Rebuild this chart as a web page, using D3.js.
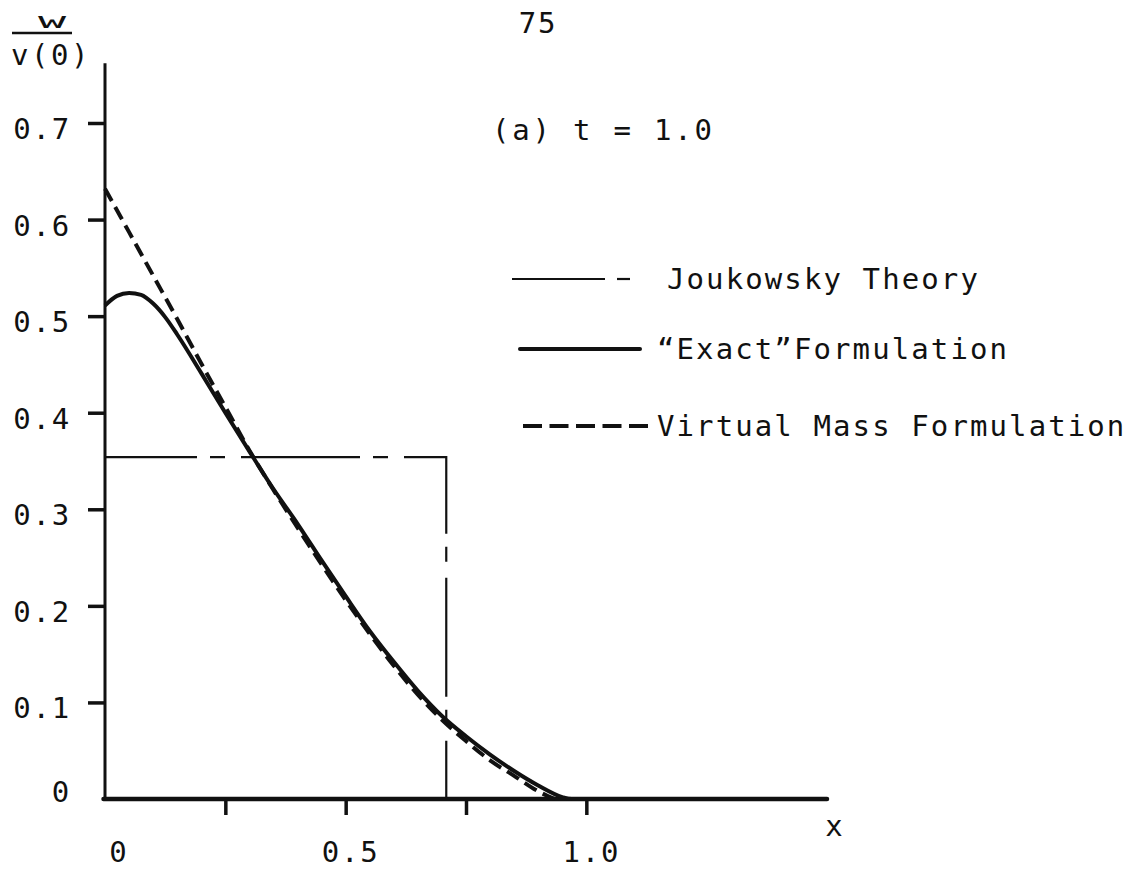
<!DOCTYPE html>
<html>
<head>
<meta charset="utf-8">
<script src="https://cdn.jsdelivr.net/npm/d3@7"></script>
<style>
  html, body { margin: 0; padding: 0; background: #fff; }
  svg { display: block; }
  text { font-family: "DejaVu Sans Mono", monospace; fill: #111; letter-spacing: 1.8px; }
</style>
</head>
<body>
<svg id="chart" width="1134" height="871"></svg>
<script>
// ---- data ----
const xGrid = [0, 0.025, 0.05, 0.075, 0.1, 0.125, 0.15, 0.2, 0.25, 0.3, 0.35, 0.4, 0.45, 0.5,
               0.55, 0.6, 0.65, 0.7, 0.75, 0.8, 0.85, 0.9, 0.95, 0.97, 1.5];
const exactW = [0.511, 0.521, 0.524, 0.522, 0.513, 0.499, 0.481, 0.441, 0.400, 0.360, 0.321, 0.285, 0.247, 0.210,
                0.174, 0.142, 0.112, 0.086, 0.065, 0.046, 0.029, 0.014, 0.002, 0, 0];

const virtualX = [0, 0.05, 0.1, 0.15, 0.2, 0.25, 0.3, 0.35, 0.4, 0.45, 0.5, 0.55, 0.6, 0.65,
                  0.7, 0.75, 0.8, 0.85, 0.9, 0.92, 0.935];
const virtualW = [0.632, 0.587, 0.542, 0.497, 0.451, 0.406, 0.361, 0.320, 0.281, 0.243, 0.206, 0.171, 0.138, 0.108,
                  0.082, 0.060, 0.040, 0.024, 0.008, 0.003, 0];

// Joukowsky theory: a rectangular pulse up to the wave front
const joukowskyX = [0, 0.709, 0.709];
const joukowskyW = [0.354, 0.354, 0];

const yTickValues = [0, 0.1, 0.2, 0.3, 0.4, 0.5, 0.6, 0.7];
const yTickLabels = ["0", "0.1", "0.2", "0.3", "0.4", "0.5", "0.6", "0.7"];
const xTickValues = [0.25, 0.5, 0.75, 1.0];
const xLabelValues = [0, 0.5, 1.0];
const xLabelTexts = ["0", "0.5", "1.0"];

const legendNames = ["Joukowsky Theory", "\u201CExact\u201DFormulation", "Virtual Mass Formulation"];

// ---- scales ----
const xMax = 1.5, yTop = 0.762;
const x = d3.scaleLinear().domain([0, xMax]).range([105, 827]);
const y = d3.scaleLinear().domain([0, 0.7]).range([799, 123]);

const svg = d3.select("#chart");
const ink = "#111";

// ---- axes ----
const yAxis = d3.axisLeft(y).tickValues(yTickValues.slice(1)).tickSize(17).tickFormat("");
const gy = svg.append("g").attr("transform", `translate(${x(0)},0)`).call(yAxis);
gy.select(".domain").remove();
gy.selectAll(".tick line").attr("stroke", ink).attr("stroke-width", 3.5);
svg.append("line")
  .attr("x1", x(0)).attr("x2", x(0))
  .attr("y1", y(0)).attr("y2", y(yTop))
  .attr("stroke", ink).attr("stroke-width", 3);

const xAxis = d3.axisBottom(x).tickValues(xTickValues).tickSize(16).tickFormat("");
const gx = svg.append("g").attr("transform", `translate(0,${y(0)})`).call(xAxis);
gx.select(".domain").remove();
gx.selectAll(".tick line").attr("stroke", ink).attr("stroke-width", 3.5);
svg.append("line")
  .attr("x1", x(0) - 1.5).attr("x2", x(xMax))
  .attr("y1", y(0)).attr("y2", y(0))
  .attr("stroke", ink).attr("stroke-width", 4.5).attr("stroke-linecap", "round");

// y tick labels
svg.append("g").selectAll("text")
  .data(yTickValues)
  .join("text")
  .attr("x", 71)
  .attr("y", d => d === 0 ? y(d) + 3 : y(d) + 16)
  .attr("text-anchor", "end")
  .attr("font-size", 29)
  .text((d, i) => yTickLabels[i]);

// x tick labels
svg.append("g").selectAll("text")
  .data(xLabelValues)
  .join("text")
  .attr("x", d => x(d) + (d === 0 ? 14 : 5))
  .attr("y", 862)
  .attr("text-anchor", "middle")
  .attr("font-size", 29)
  .text((d, i) => xLabelTexts[i]);

// axis titles
svg.append("text").attr("x", 835).attr("y", 836).attr("text-anchor", "middle")
  .attr("font-size", 29).text("x");
svg.append("text").attr("x", 52).attr("y", 28).attr("text-anchor", "middle")
  .attr("font-size", 26).attr("transform", "translate(52,28) scale(1.8,0.85) translate(-52,-28)")
  .style("letter-spacing", "0px").text("w");
svg.append("line").attr("x1", 12).attr("x2", 72).attr("y1", 33).attr("y2", 33)
  .attr("stroke", ink).attr("stroke-width", 2.5);
svg.append("text").attr("x", 11).attr("y", 65).attr("font-size", 29)
  .style("letter-spacing", "2.5px").text("v(0)");

// page number and panel label
svg.append("text").attr("x", 538).attr("y", 33).attr("text-anchor", "middle")
  .attr("font-size", 29).text("75");
svg.append("text").attr("x", 492).attr("y", 140).attr("font-size", 29)
  .style("letter-spacing", "2.8px").text("(a) t = 1.0");

// ---- curves ----
const line = d3.line().x(d => x(d[0])).y(d => y(d[1])).curve(d3.curveMonotoneX);

svg.append("path")
  .datum(joukowskyX.map((v, i) => [v, joukowskyW[i]]))
  .attr("d", d3.line().x(d => x(d[0])).y(d => y(d[1])))
  .attr("fill", "none").attr("stroke", ink).attr("stroke-width", 2.2)
  .attr("stroke-dasharray", "119,13,15,16").attr("stroke-dashoffset", 27);

svg.append("path")
  .datum(virtualX.map((v, i) => [v, virtualW[i]]))
  .attr("d", line)
  .attr("fill", "none").attr("stroke", ink).attr("stroke-width", 4)
  .attr("stroke-dasharray", "14,7");

svg.append("path")
  .datum(xGrid.map((v, i) => [v, exactW[i]]))
  .attr("d", line)
  .attr("fill", "none").attr("stroke", ink).attr("stroke-width", 4)
  .attr("stroke-linejoin", "round");

// ---- legend ----
const legend = svg.append("g");
// Joukowsky: long dash + short dash
legend.append("line").attr("x1", 512).attr("x2", 605).attr("y1", 279).attr("y2", 279)
  .attr("stroke", ink).attr("stroke-width", 2.2);
legend.append("line").attr("x1", 617).attr("x2", 630).attr("y1", 279).attr("y2", 279)
  .attr("stroke", ink).attr("stroke-width", 2.2);
// exact: solid thick
legend.append("line").attr("x1", 520).attr("x2", 640).attr("y1", 349).attr("y2", 349)
  .attr("stroke", ink).attr("stroke-width", 4).attr("stroke-linecap", "round");
// virtual mass: dashed thick
legend.append("line").attr("x1", 523).attr("x2", 648).attr("y1", 426).attr("y2", 426)
  .attr("stroke", ink).attr("stroke-width", 4).attr("stroke-dasharray", "19,7.5");

const legendTextX = [667, 657, 657];
const legendTextY = [289, 359, 436];
legend.selectAll("text.lg")
  .data(legendNames)
  .join("text")
  .attr("class", "lg")
  .attr("x", (d, i) => legendTextX[i])
  .attr("y", (d, i) => legendTextY[i])
  .attr("font-size", 29)
  .style("letter-spacing", "2.1px")
  .text(d => d);
</script>
</body>
</html>
